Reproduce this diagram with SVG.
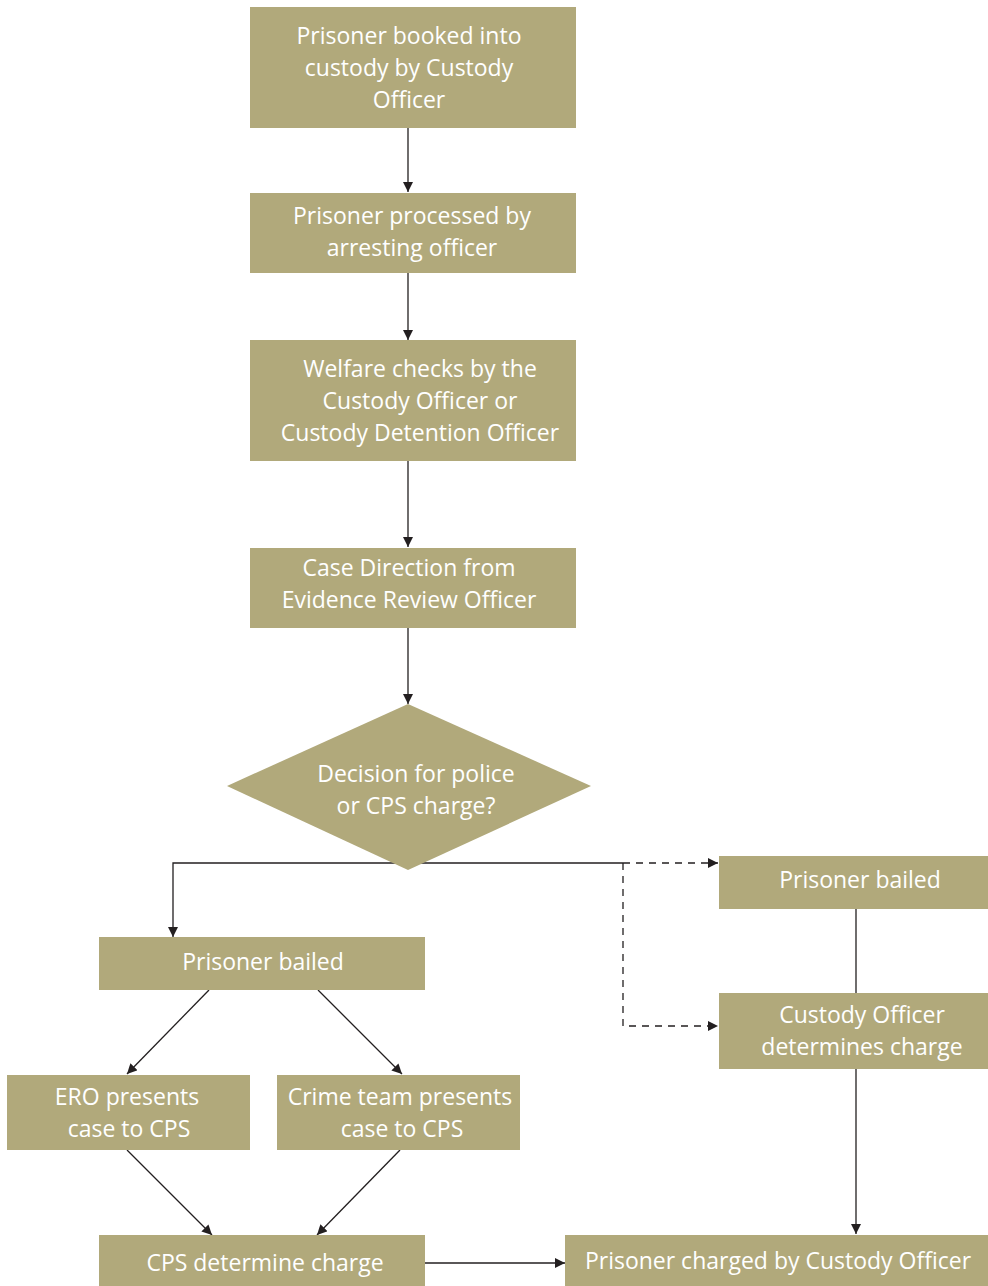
<svg xmlns="http://www.w3.org/2000/svg" width="988" height="1286" viewBox="0 0 988 1286">
<defs>
<style>
.n{fill:#b1a97b}
.t{fill:#ffffff;font-family:"Open Sans","Noto Sans",sans-serif;font-size:23px;text-anchor:middle}
.c{stroke:#231f20;stroke-width:1.3;fill:none}
.d{stroke:#231f20;stroke-width:1.3;fill:none;stroke-dasharray:7,6}
</style>
<marker id="a" viewBox="0 0 10 10" refX="10" refY="5" markerWidth="10" markerHeight="10" markerUnits="userSpaceOnUse" orient="auto">
<path d="M0,0 L10,5 L0,10 z" fill="#231f20"/>
</marker>
</defs>
<rect width="988" height="1286" fill="#ffffff"/>
<g id="connectors">
<line class="c" x1="408" y1="128" x2="408" y2="192" marker-end="url(#a)"/>
<line class="c" x1="408" y1="273" x2="408" y2="340" marker-end="url(#a)"/>
<line class="c" x1="408" y1="461" x2="408" y2="547" marker-end="url(#a)"/>
<line class="c" x1="408" y1="628" x2="408" y2="704" marker-end="url(#a)"/>
<polyline class="c" points="623,863 173,863 173,937" marker-end="url(#a)"/>
<line class="d" x1="623" y1="863" x2="718" y2="863" marker-end="url(#a)"/>
<polyline class="d" points="623,863 623,1026 718,1026" marker-end="url(#a)"/>
<line class="c" x1="856" y1="909" x2="856" y2="993"/>
<line class="c" x1="856" y1="1069" x2="856" y2="1234" marker-end="url(#a)"/>
<line class="c" x1="209" y1="990" x2="127" y2="1074" marker-end="url(#a)"/>
<line class="c" x1="318" y1="990" x2="402" y2="1074" marker-end="url(#a)"/>
<line class="c" x1="127" y1="1150" x2="212" y2="1235" marker-end="url(#a)"/>
<line class="c" x1="400" y1="1150" x2="317" y2="1235" marker-end="url(#a)"/>
<line class="c" x1="425" y1="1263" x2="565" y2="1263" marker-end="url(#a)"/>
</g>
<g id="n1"><rect class="n" x="250" y="7" width="326" height="121"/>
<text class="t"><tspan x="409" y="44">Prisoner booked into</tspan><tspan x="409" y="76">custody by Custody</tspan><tspan x="409" y="108">Officer</tspan></text></g>
<g id="n2"><rect class="n" x="250" y="193" width="326" height="80"/>
<text class="t"><tspan x="412" y="224">Prisoner processed by</tspan><tspan x="412" y="256">arresting officer</tspan></text></g>
<g id="n3"><rect class="n" x="250" y="340" width="326" height="121"/>
<text class="t"><tspan x="420" y="377">Welfare checks by the</tspan><tspan x="420" y="409">Custody Officer or</tspan><tspan x="420" y="441">Custody Detention Officer</tspan></text></g>
<g id="n4"><rect class="n" x="250" y="548" width="326" height="80"/>
<text class="t"><tspan x="409" y="576">Case Direction from</tspan><tspan x="409" y="608">Evidence Review Officer</tspan></text></g>
<g id="n5"><polygon class="n" points="408,704 591,786 408,870 227,786"/>
<text class="t"><tspan x="416" y="782">Decision for police</tspan><tspan x="416" y="814">or CPS charge?</tspan></text></g>
<g id="n6"><rect class="n" x="99" y="937" width="326" height="53"/>
<text class="t" x="263" y="970">Prisoner bailed</text></g>
<g id="n7"><rect class="n" x="7" y="1075" width="243" height="75"/>
<text class="t"><tspan x="127" y="1105">ERO presents</tspan><tspan x="129" y="1137">case to CPS</tspan></text></g>
<g id="n8"><rect class="n" x="277" y="1075" width="243" height="75"/>
<text class="t"><tspan x="400" y="1105">Crime team presents</tspan><tspan x="402" y="1137">case to CPS</tspan></text></g>
<g id="n9"><rect class="n" x="99" y="1235" width="326" height="51"/>
<text class="t" x="265" y="1271">CPS determine charge</text></g>
<g id="n10"><rect class="n" x="719" y="856" width="269" height="53"/>
<text class="t" x="860" y="888">Prisoner bailed</text></g>
<g id="n11"><rect class="n" x="719" y="993" width="269" height="76"/>
<text class="t"><tspan x="862" y="1023">Custody Officer</tspan><tspan x="862" y="1055">determines charge</tspan></text></g>
<g id="n12"><rect class="n" x="565" y="1235" width="423" height="51"/>
<text class="t" x="778" y="1269">Prisoner charged by Custody Officer</text></g>
</svg>
